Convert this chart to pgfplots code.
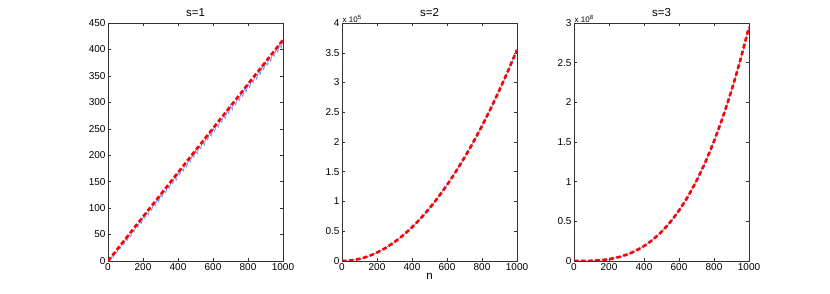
\documentclass[border=0pt]{standalone}
\usepackage{fontspec}
\setmainfont{Liberation Sans}
\usepackage{pgfplots}
\pgfplotsset{compat=1.18}
\definecolor{mblue}{rgb}{0.45,0.55,1}
\pgfplotsset{
  mstyle/.style={
    scale only axis, width=175pt, height=238pt,
    xmin=0, xmax=1000,
    xtick={0,200,400,600,800,1000},
    xticklabels={0,200,400,600,800,1000},
    scaled x ticks=false, scaled y ticks=false,
    tick align=inside, major tick length=3pt,
    axis line style={black!80, line width=0.6pt},
    tick style={black!80, line width=0.5pt},
    ticklabel style={font=\fontsize{10}{12}\selectfont},
    title style={font=\fontsize{11.5}{13}\selectfont, yshift=-3pt},
    xticklabel style={yshift=1pt},
    yticklabel style={xshift=1pt},
    /pgf/number format/assume math mode=true,
    clip mode=individual,
  },
  red dashed/.style={red, line width=2.6pt, dash pattern=on 4.5pt off 2.6pt},
  blue line/.style={mblue, line width=0.7pt},
}
\begin{document}
\begin{tikzpicture}
\useasboundingbox (0pt,0pt) rectangle (830pt,294pt);
% panel 1
\begin{axis}[mstyle, at={(108pt,33pt)}, anchor=south west, title={s=1},
  ymin=0, ymax=450, ytick={0,50,...,450},
  yticklabels={0,50,100,150,200,250,300,350,400,450}]
\addplot[blue line] coordinates {
(0,0)(10,3)(20,8)(30,7)(40,17)(50,15)(60,25)(70,23)(80,34)(90,31)(100,42)
(110,39)(120,50)(130,46)(140,58)(150,55)(160,67)(170,63)(180,75)(190,71)(200,83)
(210,80)(220,92)(230,87)(240,100)(250,96)(260,108)(270,104)(280,117)(290,112)(300,125)
(310,121)(320,134)(330,129)(340,142)(350,137)(360,150)(370,146)(380,159)(390,153)
(400,167)(410,163)(420,175)(430,170)(440,184)(450,178)(460,192)(470,187)(480,200)
(490,196)(500,209)(510,203)(520,217)(530,212)(540,226)(550,219)(560,234)(570,229)
(580,242)(590,236)(600,251)(610,245)(620,259)(630,253)(640,267)(650,262)(660,276)
(670,269)(680,284)(690,279)(700,293)(710,286)(720,301)(730,295)(740,309)(750,303)
(760,318)(770,311)(780,326)(790,320)(800,335)(810,328)(820,343)(830,337)(840,351)
(850,344)(860,360)(870,353)(880,368)(890,362)(900,376)(910,370)(920,385)(930,378)
(940,393)(950,387)(960,401)(970,395)(980,410)(990,403)(1000,419)};
\addplot[red dashed] coordinates {(0,0)(1000,418)};
\end{axis}
% panel 2
\begin{axis}[mstyle, at={(342pt,33pt)}, anchor=south west, title={s=2},
  xlabel={n}, xlabel style={font=\fontsize{11.5}{13}\selectfont, yshift=4pt},
  ymin=0, ymax=400000, ytick={0,50000,100000,150000,200000,250000,300000,350000,400000},
  yticklabels={0,0.5,1,1.5,2,2.5,3,3.5,4}]
\addplot[blue line, smooth] coordinates {
(0,0)(50,880)(100,3540)(150,7970)(200,14170)(250,22150)(300,31900)(350,43420)
(400,56720)(450,71780)(500,88620)(550,107230)(600,127610)(650,149770)(700,173700)
(750,199400)(800,226880)(850,256120)(900,287140)(950,319930)(1000,354500)};
\addplot[red dashed, smooth] coordinates {
(0,0)(50,887.5)(100,3550)(150,7987.5)(200,14200)(250,22187.5)(300,31950)(350,43487.5)
(400,56800)(450,71887.5)(500,88750)(550,107387.5)(600,127800)(650,149987.5)(700,173950)
(750,199687.5)(800,227200)(850,256487.5)(900,287550)(950,320387.5)(1000,355000)};
\end{axis}
% panel 3
\begin{axis}[mstyle, at={(574pt,33pt)}, anchor=south west, title={s=3},
  ymin=0, ymax=300000000, ytick={0,50000000,100000000,150000000,200000000,250000000,300000000},
  yticklabels={0,0.5,1,1.5,2,2.5,3}]
\addplot[blue line, smooth] coordinates {
(0,0)(50,36800)(100,294500)(150,994000)(200,2356000)(250,4602000)(300,7953000)
(350,12630000)(400,18850000)(450,26840000)(500,36820000)(550,49010000)(600,63620000)
(650,80890000)(700,101030000)(750,124260000)(800,150810000)(850,180890000)
(900,214730000)(950,252540000)(1000,294550000)};
\addplot[red dashed, smooth] coordinates {
(0,0)(50,36875)(100,295000)(150,995625)(200,2360000)(250,4609375)(300,7965000)
(350,12648125)(400,18880000)(450,26881875)(500,36875000)(550,49080625)(600,63720000)
(650,81014375)(700,101185000)(750,124453125)(800,151040000)(850,181166875)
(900,215055000)(950,252925625)(1000,295000000)};
\end{axis}
\node[anchor=south west, inner sep=0.5pt, font=\fontsize{8}{9}\selectfont] at (342pt,271pt) {x 10\raisebox{0.7ex}{\fontsize{6}{7}\selectfont 5}};
\node[anchor=south west, inner sep=0.5pt, font=\fontsize{8}{9}\selectfont] at (574pt,271pt) {x 10\raisebox{0.7ex}{\fontsize{6}{7}\selectfont 8}};
\end{tikzpicture}
\end{document}
